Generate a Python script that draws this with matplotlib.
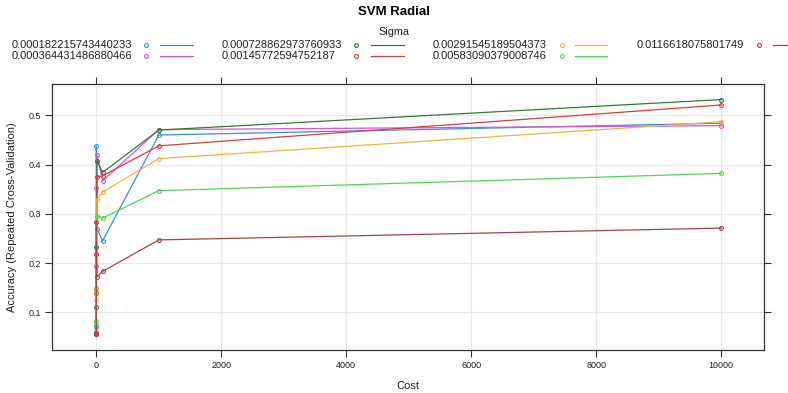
import matplotlib
matplotlib.use("Agg")
import matplotlib.pyplot as plt
from matplotlib.lines import Line2D

plt.rcParams['font.family'] = ['Liberation Sans', 'DejaVu Sans']

title = "SVM Radial"
legend_title = "Sigma"
x_label = "Cost"
y_label = "Accuracy (Repeated Cross-Validation)"

sigma_labels = ["0.000182215743440233", "0.000364431486880466", "0.000728862973760933",
                "0.00145772594752187", "0.00291545189504373", "0.00583090379008746",
                "0.0116618075801749"]
colors = ["#3592e0", "#e24fe2", "#2f7d34", "#dc3c3c", "#f0b43c", "#4ed84e", "#a84444"]

cost = [0.01, 0.1, 1, 10, 100, 1000, 10000]
acc_s1 = [0.058, 0.070, 0.437, 0.270, 0.245, 0.460, 0.484]
acc_s2 = [0.058, 0.193, 0.353, 0.420, 0.367, 0.471, 0.479]
acc_s3 = [0.057, 0.111, 0.233, 0.408, 0.384, 0.470, 0.532]
acc_s4 = [0.056, 0.140, 0.218, 0.375, 0.377, 0.438, 0.521]
acc_s5 = [0.060, 0.125, 0.143, 0.328, 0.344, 0.412, 0.487]
acc_s6 = [0.075, 0.082, 0.150, 0.296, 0.291, 0.347, 0.382]
acc_s7 = [0.055, 0.058, 0.284, 0.172, 0.183, 0.247, 0.271]
series = [acc_s1, acc_s2, acc_s3, acc_s4, acc_s5, acc_s6, acc_s7]

x_ticks = [0, 2000, 4000, 6000, 8000, 10000]
y_ticks = [0.1, 0.2, 0.3, 0.4, 0.5]

fig = plt.figure(figsize=(7.88, 3.93), dpi=100)
ax = fig.add_axes([52/788, 1-350/393, (764-52)/788, (350-84.3)/393])

for xt in x_ticks:
    ax.axvline(xt, color="#e8e8e8", lw=0.9, zorder=0)
for yt in y_ticks:
    ax.axhline(yt, color="#e8e8e8", lw=0.9, zorder=0)

for vals, c in zip(series, colors):
    ax.plot(cost, vals, color=c, lw=0.9, marker='o', ms=2.8, mfc='none',
            mec=c, mew=0.8, zorder=3)

ax.set_xlim(-709, 10683)
ax.set_ylim(0.0234, 0.563)
ax.set_xticks(x_ticks)
ax.set_yticks(y_ticks)
ax.set_xticklabels([str(t) for t in x_ticks])
ax.set_yticklabels([f"{t:.1f}" for t in y_ticks])
ax.tick_params(axis='both', direction='out', length=5, width=0.8, color='#333333',
               labelsize=6.5, labelcolor='#222222', top=True, right=True, pad=3)
for s in ax.spines.values():
    s.set_color('#333333')
    s.set_linewidth(0.9)
ax.set_xlabel(x_label, fontsize=8, color='#222222', labelpad=8)
ax.set_ylabel(y_label, fontsize=8, color='#222222', labelpad=8)

fig.text(394/788, 1-12/393, title, ha='center', va='center', fontsize=9.5, fontweight='bold')
fig.text(394/788, 1-32/393, legend_title, ha='center', va='center', fontsize=7.8, color='#222222')

cols_text = [12, 222, 433, 637]
cols_mark = [146, 356, 562, 759]
cols_line = [(160, 193), (371, 404), (575, 607), (773, 806)]
rows_y = [45, 56]
for i, (lab, c) in enumerate(zip(sigma_labels, colors)):
    col, row = i // 2, i % 2
    yf = 1 - rows_y[row]/393
    fig.text(cols_text[col]/788, yf, lab, ha='left', va='center', fontsize=8, color='#222222')
    fig.add_artist(Line2D([cols_mark[col]/788], [yf], transform=fig.transFigure,
                          marker='o', ms=2.8, mfc='none', mec=c, mew=0.8, ls='none'))
    x0, x1 = cols_line[col]
    fig.add_artist(Line2D([x0/788, x1/788], [yf, yf], transform=fig.transFigure,
                          color=c, lw=0.9))

fig.savefig("out.png", dpi=100)
